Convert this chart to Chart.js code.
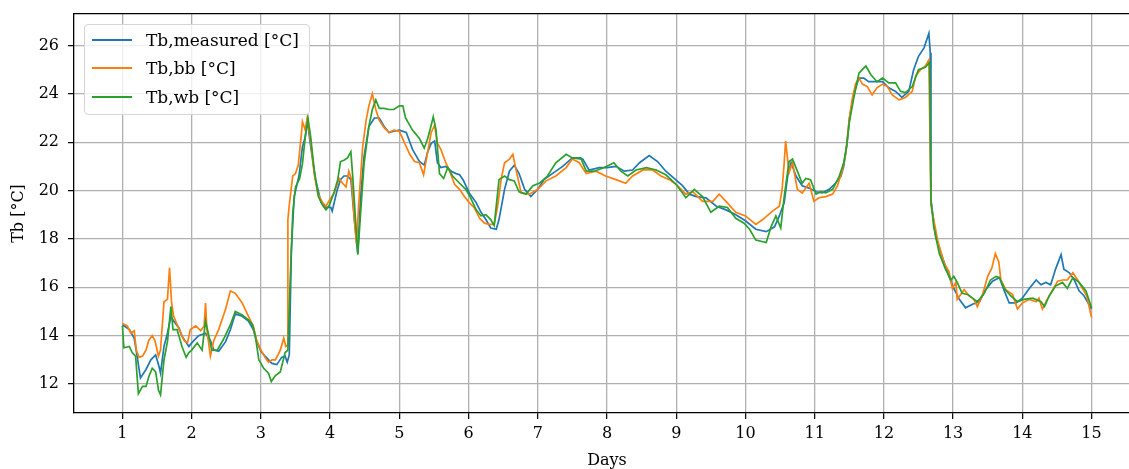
<!DOCTYPE html>
<html>
<head>
<meta charset="utf-8">
<script src="https://cdn.jsdelivr.net/npm/chart.js@4.4.1/dist/chart.umd.min.js"></script>
<style>
body{margin:0;background:#fff}
#moldura{position:relative;width:1129px;height:469px;overflow:hidden}
#caixa{position:absolute;left:0;top:0;width:1150px;height:469px}
#legenda{position:absolute;left:84px;top:24px;width:224px;height:89px;border:1px solid #d6d6d6;border-radius:4px;background:rgba(255,255,255,.8);font-family:'DejaVu Serif';font-size:17px;color:#000}
.item{position:absolute;left:0;height:20px;line-height:20px;white-space:nowrap}
.traco{position:absolute;left:7px;top:9px;width:40px;height:2px}
.rotulo{position:absolute;left:61px;top:0}
</style>
</head>
<body>
<div id="moldura">
<div id="caixa"><canvas id="grafico"></canvas></div>
<div id="legenda"></div>
</div>
<script>

// series names and colours
let nomes=['Tb,measured [°C]','Tb,bb [°C]','Tb,wb [°C]']
let cores=['#1f77b4','#ff7f0e','#2ca02c']

// axis ticks
let ticksDias=[1,2,3,4,5,6,7,8,9,10,11,12,13,14,15]
let ticksTemp=[12,14,16,18,20,22,24,26]

// Tb,measured
let diasMedido=[
1.0,1.1,1.17,1.22,1.26,1.34,1.41,1.48,1.53,1.55,
1.6,1.65,1.7,1.74,1.82,1.86,1.96,2.0,2.1,2.2,
2.27,2.32,2.39,2.49,2.56,2.63,2.73,2.82,2.89,2.94,
3.0,3.06,3.16,3.23,3.3,3.35,3.38,3.41,3.44,3.48,
3.55,3.6,3.64,3.67,3.72,3.79,3.87,3.94,4.01,4.03,
4.1,4.15,4.2,4.25,4.3,4.35,4.4,4.44,4.49,4.56,
4.64,4.71,4.78,4.85,4.92,5.0,5.1,5.19,5.29,5.36,
5.41,5.46,5.51,5.55,5.6,5.67,5.75,5.82,5.87,5.92,
6.01,6.11,6.18,6.25,6.32,6.4,6.44,6.52,6.59,6.66,
6.73,6.81,6.9,7.0,7.09,7.21,7.36,7.5,7.65,7.74,
7.89,8.0,8.13,8.25,8.37,8.47,8.61,8.73,8.85,8.97,
9.09,9.19,9.29,9.43,9.58,9.72,9.86,10.0,10.15,10.3,
10.42,10.49,10.56,10.61,10.66,10.73,10.82,10.92,11.02,11.11,
11.21,11.3,11.38,11.42,11.47,11.5,11.57,11.64,11.71,11.78,
11.88,11.98,12.07,12.17,12.26,12.36,12.43,12.5,12.58,12.65,
12.67,12.68,12.75,12.85,12.94,13.01,13.09,13.18,13.28,13.38,
13.47,13.57,13.67,13.74,13.81,13.91,14.0,14.1,14.2,14.27,
14.34,14.41,14.48,14.56,14.6,14.68,14.75,14.82,14.89,14.96,
15.0]
let tbMedido=[
14.45,14.25,13.9,13.0,12.25,12.6,13.0,13.2,12.7,12.45,
13.55,14.1,14.8,14.6,14.3,13.97,13.55,13.7,14.0,14.1,
13.8,13.4,13.35,13.75,14.25,14.9,14.8,14.6,14.25,13.75,
13.35,13.15,12.85,12.8,13.1,13.15,12.9,13.2,17.5,19.75,
20.6,21.8,22.2,22.9,21.8,20.45,19.5,19.3,19.3,19.15,
20.0,20.45,20.6,20.6,20.45,18.8,17.4,19.75,21.4,22.65,
23.0,23.0,22.65,22.4,22.45,22.5,22.4,21.7,21.2,21.05,
21.6,21.95,22.05,21.15,20.95,21.0,20.8,20.7,20.65,20.45,
19.9,19.5,19.1,18.8,18.45,18.4,18.8,20.05,20.8,21.05,
20.7,20.05,19.75,20.05,20.45,20.7,21.0,21.35,21.3,20.85,
20.95,20.95,21.0,20.8,20.85,21.15,21.45,21.2,20.8,20.5,
20.2,19.85,19.75,19.7,19.35,19.2,19.0,18.75,18.4,18.3,
18.5,18.95,19.5,20.6,21.15,20.6,20.2,20.1,19.95,19.9,
20.05,20.3,20.6,21.0,22.0,22.95,24.05,24.65,24.65,24.5,
24.5,24.5,24.25,24.1,23.85,24.1,25.0,25.55,25.9,26.5,
25.7,19.6,18.05,17.2,16.45,15.95,15.5,15.15,15.3,15.4,
15.9,16.25,16.4,15.85,15.35,15.35,15.55,15.95,16.3,16.1,
16.2,16.1,16.75,17.35,16.75,16.6,16.3,15.85,15.65,15.3,
15.1]

// Tb,bb
let diasBb=[
1.0,1.07,1.12,1.17,1.2,1.24,1.29,1.34,1.38,1.43,
1.47,1.52,1.55,1.6,1.65,1.68,1.71,1.74,1.82,1.89,
1.94,1.98,2.06,2.13,2.18,2.2,2.22,2.27,2.32,2.39,
2.49,2.56,2.63,2.73,2.82,2.89,2.94,3.0,3.06,3.11,
3.16,3.21,3.28,3.33,3.36,3.38,3.39,3.41,3.46,3.5,
3.54,3.58,3.6,3.64,3.67,3.72,3.77,3.82,3.89,3.94,
3.99,4.06,4.13,4.18,4.23,4.27,4.31,4.35,4.38,4.41,
4.47,4.52,4.56,4.61,4.66,4.71,4.78,4.85,4.92,5.0,
5.07,5.15,5.22,5.29,5.35,5.41,5.46,5.51,5.55,5.6,
5.67,5.72,5.8,5.87,5.94,6.01,6.08,6.16,6.23,6.3,
6.37,6.42,6.47,6.52,6.59,6.64,6.69,6.76,6.88,7.0,
7.12,7.26,7.41,7.5,7.6,7.7,7.84,7.98,8.13,8.27,
8.37,8.52,8.66,8.78,8.9,9.0,9.14,9.24,9.38,9.53,
9.62,9.72,9.86,10.0,10.15,10.25,10.39,10.49,10.53,10.56,
10.58,10.63,10.68,10.75,10.82,10.92,10.99,11.06,11.16,11.26,
11.33,11.4,11.45,11.5,11.54,11.59,11.64,11.69,11.76,11.83,
11.9,11.98,12.05,12.12,12.22,12.31,12.41,12.46,12.53,12.6,
12.65,12.68,12.72,12.78,12.87,12.94,12.99,13.04,13.06,13.11,
13.16,13.23,13.3,13.35,13.42,13.5,13.56,13.61,13.66,13.69,
13.76,13.86,13.93,14.0,14.1,14.2,14.24,14.29,14.36,14.44,
14.51,14.58,14.65,14.73,14.8,14.87,14.93,15.0]
let tbBb=[
14.5,14.4,14.1,14.2,13.4,13.1,13.15,13.4,13.8,14.0,
13.8,13.15,13.4,15.4,15.5,16.8,15.35,14.8,14.25,13.8,
13.7,14.25,14.4,14.2,14.4,15.35,14.25,13.15,13.8,14.25,
15.1,15.85,15.75,15.35,14.8,14.4,13.8,13.4,13.1,12.9,
13.0,13.0,13.4,13.9,13.55,13.6,18.8,19.4,20.6,20.7,
21.05,22.2,22.85,22.5,23.0,22.0,20.7,19.9,19.5,19.35,
19.6,19.9,20.5,20.3,20.15,20.8,20.45,18.8,17.8,19.3,
21.8,22.9,23.5,24.0,23.35,22.9,22.6,22.4,22.5,22.45,
22.0,21.5,21.2,21.15,20.65,21.6,22.4,22.7,21.95,21.7,
21.15,20.85,20.25,20.05,19.75,19.5,19.3,18.85,18.65,18.6,
18.6,19.35,20.45,21.15,21.3,21.5,20.8,19.9,19.85,20.05,
20.4,20.6,20.95,21.3,21.15,20.7,20.8,20.6,20.45,20.3,
20.6,20.85,20.85,20.6,20.45,20.25,19.85,19.95,19.55,19.55,
19.85,19.55,19.1,18.95,18.6,18.8,19.15,19.35,20.05,21.15,
22.05,20.75,21.15,20.05,19.9,20.3,19.55,19.7,19.75,19.85,
20.2,20.85,21.55,22.95,23.75,24.4,24.65,24.4,24.3,23.95,
24.25,24.4,24.3,23.95,23.75,23.85,24.1,24.75,25.0,25.15,
25.4,19.4,18.8,17.9,17.0,16.65,15.95,16.2,15.5,15.7,
15.9,15.65,15.5,15.2,15.65,16.45,16.8,17.4,17.05,16.3,
15.9,15.7,15.1,15.35,15.5,15.4,15.55,15.1,15.5,15.9,
16.25,16.3,16.3,16.6,16.3,15.95,15.65,14.75]

// Tb,wb
let diasWb=[
1.0,1.02,1.1,1.14,1.19,1.23,1.29,1.34,1.38,1.43,
1.48,1.52,1.55,1.6,1.65,1.7,1.73,1.79,1.86,1.92,
1.96,2.0,2.08,2.15,2.2,2.25,2.29,2.37,2.46,2.56,
2.63,2.73,2.82,2.88,2.92,2.97,3.04,3.11,3.15,3.21,
3.28,3.35,3.39,3.42,3.46,3.5,3.56,3.6,3.64,3.68,
3.72,3.77,3.83,3.89,3.94,3.99,4.06,4.11,4.15,4.2,
4.25,4.3,4.33,4.37,4.4,4.44,4.49,4.56,4.61,4.66,
4.71,4.78,4.85,4.92,5.0,5.05,5.09,5.12,5.19,5.29,
5.36,5.41,5.46,5.49,5.53,5.58,5.64,5.7,5.77,5.87,
5.96,6.03,6.11,6.18,6.25,6.32,6.37,6.44,6.52,6.59,
6.66,6.73,6.83,6.93,7.02,7.14,7.26,7.41,7.5,7.62,
7.7,7.82,7.96,8.1,8.2,8.3,8.42,8.57,8.71,8.85,
9.0,9.14,9.26,9.38,9.5,9.62,9.74,9.86,9.98,10.06,
10.15,10.3,10.37,10.44,10.51,10.56,10.63,10.68,10.75,10.82,
10.87,10.94,11.02,11.09,11.16,11.26,11.35,11.42,11.46,11.5,
11.57,11.64,11.74,11.81,11.9,11.98,12.07,12.17,12.24,12.31,
12.41,12.5,12.6,12.66,12.68,12.72,12.8,12.89,12.97,13.01,
13.06,13.13,13.21,13.28,13.35,13.45,13.54,13.62,13.67,13.74,
13.83,13.93,14.02,14.15,14.27,14.32,14.39,14.48,14.58,14.65,
14.73,14.82,14.92,15.0]
let tbWb=[
14.4,13.5,13.55,13.3,13.15,11.6,11.9,11.9,12.3,12.65,
12.5,11.75,11.55,13.0,13.75,15.2,14.25,14.25,13.55,13.1,
13.3,13.4,13.7,13.4,14.6,13.97,13.4,13.4,13.85,14.45,
15.0,14.85,14.65,14.45,13.97,13.0,12.65,12.45,12.1,12.35,
12.5,13.3,13.4,16.0,19.05,20.15,20.5,21.1,22.2,23.0,
22.2,20.85,19.75,19.4,19.2,19.4,19.95,20.45,21.2,21.25,
21.35,21.6,20.45,18.65,17.35,19.05,21.1,22.65,23.35,23.75,
23.4,23.4,23.35,23.35,23.5,23.5,23.0,22.85,22.5,22.15,
21.75,22.15,22.7,23.05,22.5,20.7,20.5,20.95,20.6,20.3,
20.05,19.7,19.2,18.95,19.0,18.8,18.55,20.45,20.6,20.45,
20.4,19.95,19.85,20.2,20.3,20.6,21.15,21.5,21.35,21.35,
20.8,20.8,20.95,21.15,20.8,20.6,20.85,20.95,20.85,20.65,
20.25,19.7,20.05,19.75,19.1,19.35,19.3,18.85,18.65,18.4,
17.95,17.85,18.5,18.95,18.45,19.75,21.2,21.3,20.8,20.3,
20.5,20.45,19.85,19.95,19.9,20.05,20.55,21.15,21.8,22.8,
23.9,24.85,25.15,24.8,24.5,24.65,24.45,24.45,24.1,24.05,
24.3,25.0,25.1,25.3,19.6,18.5,17.4,16.75,16.3,16.45,
16.2,15.75,15.7,15.55,15.4,15.75,16.3,16.45,16.4,15.95,
15.65,15.4,15.5,15.55,15.4,15.2,15.65,16.05,16.2,15.95,
16.4,16.2,15.85,15.15]

let fonte={family:'DejaVu Serif',size:16}

function pontos(dias,valores){
return dias.map((d,i)=>({x:d,y:valores[i]}))
}

let series=[
pontos(diasMedido,tbMedido),
pontos(diasBb,tbBb),
pontos(diasWb,tbWb)
]

let datasets=series.map((s,i)=>({
label:nomes[i],
data:s,
borderColor:cores[i],
backgroundColor:cores[i],
borderWidth:1.7,
pointRadius:0,
tension:0,
fill:false,
order:3-i
}))

// legend drawn as html box inside the plot
let html=''
nomes.forEach((n,i)=>{
let topo=[5,32.7,61.7][i]
html+=`<div class="item" style="top:${topo}px">
<div class="traco" style="background:${cores[i]}"></div>
<div class="rotulo">${n}</div>
</div>`
})
document.getElementById('legenda').innerHTML=html

let grade={
color:'#b0b0b0',
lineWidth:1.3,
tickColor:'#000',
tickLength:6,
tickWidth:1.2
}

function semPadding(s){
s.paddingTop=0
s.paddingBottom=0
s.paddingLeft=0
s.paddingRight=0
}

new Chart(document.getElementById('grafico'),{
type:'line',
data:{datasets:datasets},
options:{
responsive:true,
maintainAspectRatio:false,
animation:false,
layout:{padding:{left:0,right:10,top:0,bottom:0}},
plugins:{
legend:{display:false},
tooltip:{enabled:false}
},
scales:{
x:{
type:'linear',
position:'bottom',
min:0.3,
max:15.7,
afterBuildTicks:s=>{s.ticks=ticksDias.map(v=>({value:v}))},
afterFit:s=>{s.height=56;semPadding(s)},
grid:grade,
border:{color:'#000',width:1.3},
ticks:{color:'#000',font:fonte,padding:5,maxRotation:0,autoSkip:false},
title:{display:true,text:'Days',color:'#000',font:fonte,padding:{top:0,bottom:-1}}
},
x2:{
type:'linear',
position:'top',
min:0.3,
max:15.7,
grid:{display:false},
ticks:{display:false},
border:{color:'#000',width:1.3},
afterFit:s=>{s.height=14;semPadding(s)}
},
y:{
type:'linear',
min:10.8,
max:27.3,
afterBuildTicks:s=>{s.ticks=ticksTemp.map(v=>({value:v}))},
afterFit:s=>{s.width=74;semPadding(s)},
grid:grade,
border:{color:'#000',width:1.3},
ticks:{color:'#000',font:fonte,padding:9},
title:{display:true,text:'Tb [°C]',color:'#000',font:fonte,padding:{top:9,bottom:0}}
}
}
}
})

</script>
</body>
</html>
